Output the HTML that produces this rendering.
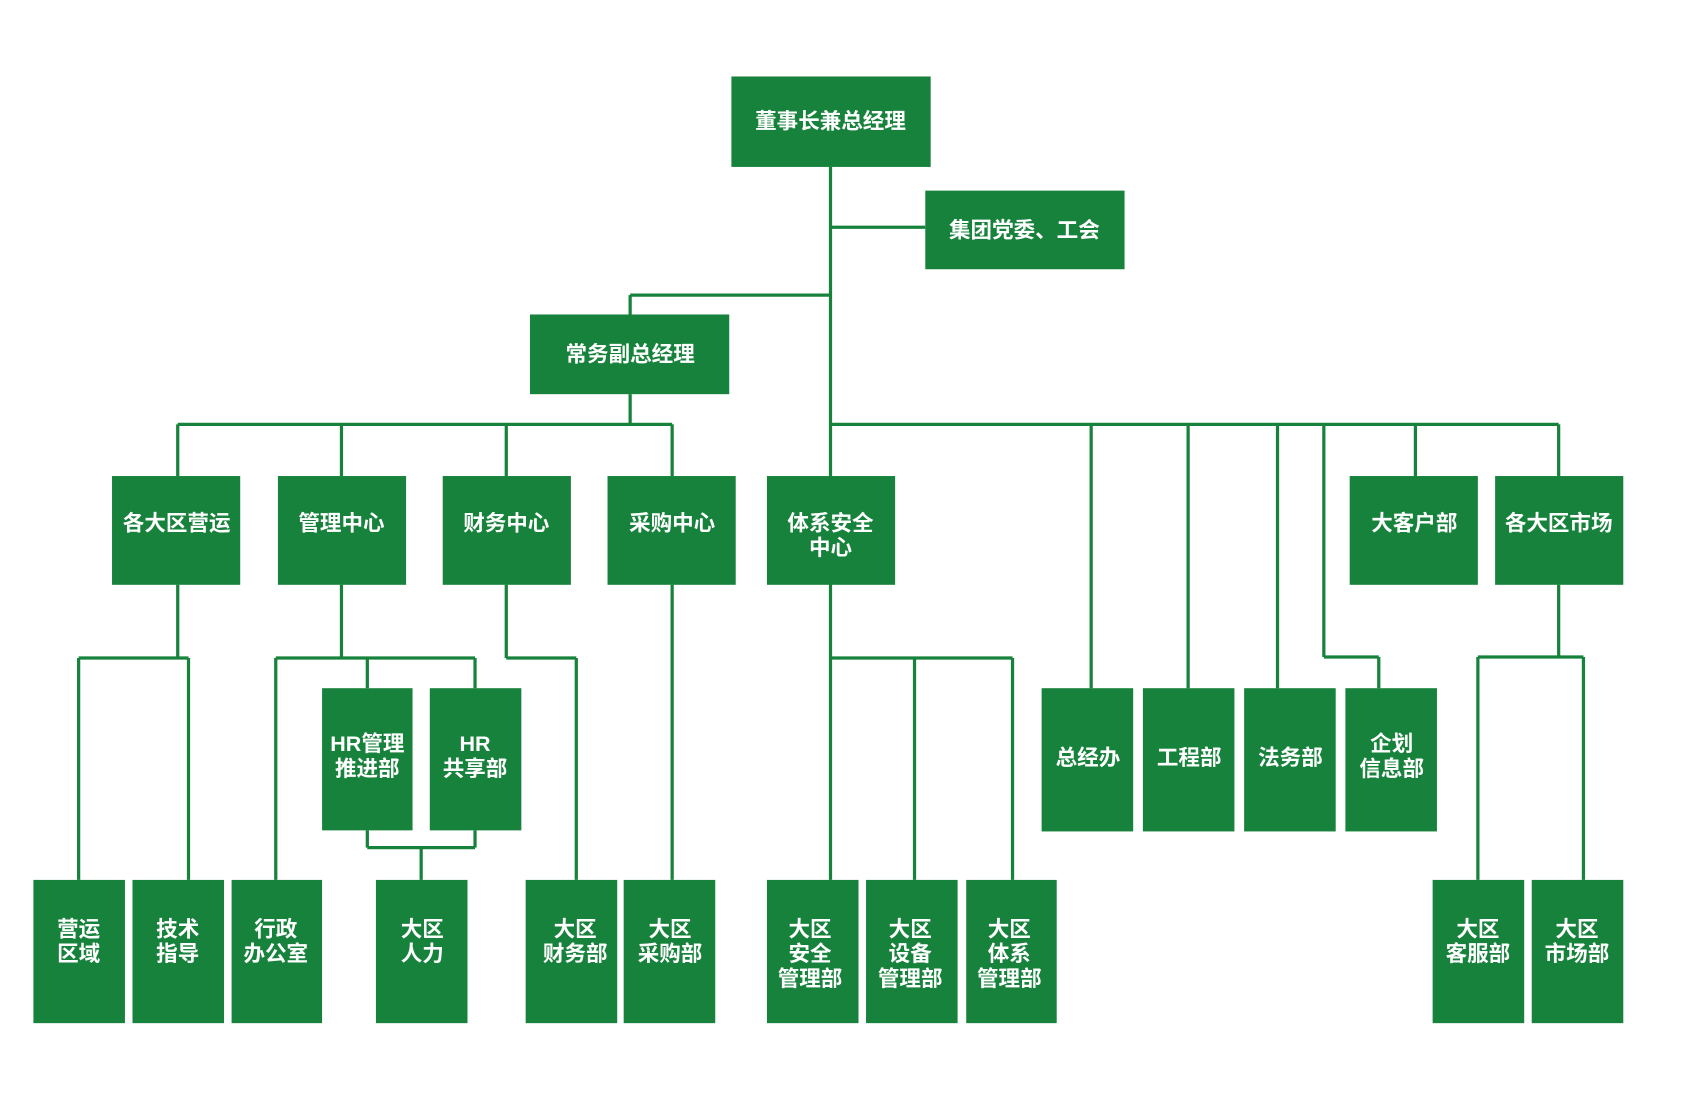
<!DOCTYPE html>
<html><head><meta charset="utf-8"><style>
html,body{margin:0;padding:0;background:#fff;}
svg{display:block}
text{font-family:"Liberation Sans","Noto Sans CJK SC",sans-serif;font-weight:bold;fill:#fff;font-size:20px;text-anchor:middle;dominant-baseline:central}
rect{fill:#17823b}
line{stroke:#17823b;stroke-width:3}
</style></head><body>
<svg width="1689" height="1112" viewBox="0 0 1568 1032.5" preserveAspectRatio="none">
<g>
<line x1="771" y1="155" x2="771" y2="817"/>
<line x1="771" y1="211" x2="859" y2="211"/>
<line x1="585" y1="274" x2="771" y2="274"/>
<line x1="585" y1="274" x2="585" y2="292"/>
<line x1="585" y1="366" x2="585" y2="394"/>
<line x1="165" y1="394" x2="624" y2="394"/>
<line x1="165" y1="394" x2="165" y2="442"/>
<line x1="317" y1="394" x2="317" y2="442"/>
<line x1="470" y1="394" x2="470" y2="442"/>
<line x1="624" y1="394" x2="624" y2="442"/>
<line x1="771" y1="394" x2="1447" y2="394"/>
<line x1="1013" y1="394" x2="1013" y2="639"/>
<line x1="1103" y1="394" x2="1103" y2="639"/>
<line x1="1186" y1="394" x2="1186" y2="639"/>
<line x1="1229" y1="394" x2="1229" y2="610"/>
<line x1="1229" y1="610" x2="1280" y2="610"/>
<line x1="1280" y1="610" x2="1280" y2="639"/>
<line x1="1314" y1="394" x2="1314" y2="442"/>
<line x1="1447" y1="394" x2="1447" y2="442"/>
<line x1="165" y1="543" x2="165" y2="611"/>
<line x1="73" y1="611" x2="175" y2="611"/>
<line x1="73" y1="611" x2="73" y2="817"/>
<line x1="175" y1="611" x2="175" y2="817"/>
<line x1="317" y1="543" x2="317" y2="611"/>
<line x1="256" y1="611" x2="441" y2="611"/>
<line x1="256" y1="611" x2="256" y2="817"/>
<line x1="341" y1="611" x2="341" y2="639"/>
<line x1="441" y1="611" x2="441" y2="639"/>
<line x1="341" y1="771" x2="341" y2="787"/>
<line x1="441" y1="771" x2="441" y2="787"/>
<line x1="341" y1="787" x2="441" y2="787"/>
<line x1="391" y1="787" x2="391" y2="817"/>
<line x1="470" y1="543" x2="470" y2="611"/>
<line x1="470" y1="611" x2="535" y2="611"/>
<line x1="535" y1="611" x2="535" y2="817"/>
<line x1="624" y1="543" x2="624" y2="817"/>
<line x1="771" y1="611" x2="940" y2="611"/>
<line x1="849" y1="611" x2="849" y2="817"/>
<line x1="940" y1="611" x2="940" y2="817"/>
<line x1="1447" y1="543" x2="1447" y2="610"/>
<line x1="1372" y1="610" x2="1470" y2="610"/>
<line x1="1372" y1="610" x2="1372" y2="817"/>
<line x1="1470" y1="610" x2="1470" y2="817"/>
</g>
<rect x="679" y="71" width="185" height="84"/><text x="771" y="113">董事长兼总经理</text>
<rect x="859" y="177" width="185" height="73"/><text x="951" y="214">集团党委、工会</text>
<rect x="492" y="292" width="185" height="74"/><text x="585" y="329">常务副总经理</text>

<rect x="104" y="442" width="119" height="101"/><text x="164" y="486">各大区营运</text>
<rect x="258" y="442" width="119" height="101"/><text x="317" y="486">管理中心</text>
<rect x="411" y="442" width="119" height="101"/><text x="470" y="486">财务中心</text>
<rect x="564" y="442" width="119" height="101"/><text x="624" y="486">采购中心</text>
<rect x="712" y="442" width="119" height="101"/><text x="771" y="486">体系安全</text><text x="771" y="509">中心</text>
<rect x="1253" y="442" width="119" height="101"/><text x="1313" y="486">大客户部</text>
<rect x="1388" y="442" width="119" height="101"/><text x="1447" y="486">各大区市场</text>

<rect x="299" y="639" width="84" height="132"/><text x="341" y="691">HR管理</text><text x="341" y="714">推进部</text>
<rect x="399" y="639" width="85" height="132"/><text x="441" y="691">HR</text><text x="441" y="714">共享部</text>
<rect x="967" y="639" width="85" height="133"/><text x="1010" y="704">总经办</text>
<rect x="1061" y="639" width="85" height="133"/><text x="1104" y="704">工程部</text>
<rect x="1155" y="639" width="85" height="133"/><text x="1198" y="704">法务部</text>
<rect x="1249" y="639" width="85" height="133"/><text x="1292" y="691">企划</text><text x="1292" y="714">信息部</text>

<rect x="31" y="817" width="85" height="133"/><text x="73" y="863">营运</text><text x="73" y="886">区域</text>
<rect x="123" y="817" width="85" height="133"/><text x="165" y="863">技术</text><text x="165" y="886">指导</text>
<rect x="215" y="817" width="84" height="133"/><text x="256" y="863">行政</text><text x="256" y="886">办公室</text>
<rect x="349" y="817" width="85" height="133"/><text x="392" y="863">大区</text><text x="392" y="886">人力</text>
<rect x="488" y="817" width="85" height="133"/><text x="534" y="863">大区</text><text x="534" y="886">财务部</text>
<rect x="579" y="817" width="85" height="133"/><text x="622" y="863">大区</text><text x="622" y="886">采购部</text>
<rect x="712" y="817" width="85" height="133"/><text x="752" y="863">大区</text><text x="752" y="886">安全</text><text x="752" y="909">管理部</text>
<rect x="804" y="817" width="85" height="133"/><text x="845" y="863">大区</text><text x="845" y="886">设备</text><text x="845" y="909">管理部</text>
<rect x="897" y="817" width="84" height="133"/><text x="937" y="863">大区</text><text x="937" y="886">体系</text><text x="937" y="909">管理部</text>
<rect x="1330" y="817" width="85" height="133"/><text x="1372" y="863">大区</text><text x="1372" y="886">客服部</text>
<rect x="1422" y="817" width="85" height="133"/><text x="1464" y="863">大区</text><text x="1464" y="886">市场部</text>
</svg>
</body></html>
